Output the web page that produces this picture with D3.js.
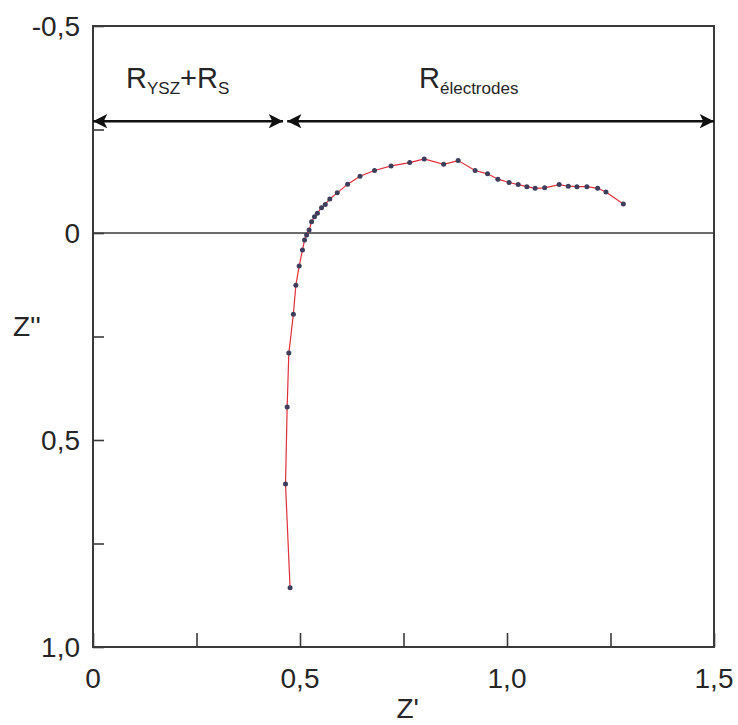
<!DOCTYPE html>
<html>
<head>
<meta charset="utf-8">
<script src="https://cdn.jsdelivr.net/npm/d3@7"></script>
<style>
  html, body { margin: 0; padding: 0; background: #ffffff; }
  svg { display: block; }
  text { font-family: "Liberation Sans", Arial, sans-serif; fill: #262626; }
</style>
</head>
<body>
<svg id="chart" width="738" height="725"></svg>
<script>
// Nyquist data: Z' (real) and Z'' (imaginary, axis inverted: negative up)
const zReal = [0.476, 0.465, 0.469, 0.473, 0.484, 0.490, 0.498, 0.506, 0.511, 0.516,
               0.522, 0.528, 0.535, 0.542, 0.552, 0.561, 0.572, 0.590, 0.615, 0.645,
               0.680, 0.720, 0.765, 0.800, 0.847, 0.882, 0.923, 0.953, 0.978, 1.005,
               1.027, 1.048, 1.068, 1.091, 1.126, 1.148, 1.169, 1.193, 1.219, 1.239, 1.281];
const zImag = [0.857, 0.606, 0.420, 0.290, 0.196, 0.126, 0.080, 0.041, 0.017, 0.005,
               -0.007, -0.027, -0.039, -0.048, -0.061, -0.069, -0.082, -0.097, -0.118, -0.137,
               -0.151, -0.162, -0.170, -0.179, -0.166, -0.175, -0.151, -0.143, -0.130, -0.122,
               -0.117, -0.112, -0.108, -0.109, -0.117, -0.113, -0.112, -0.112, -0.108, -0.099, -0.070];

const xTicksMajor = [0, 0.5, 1.0, 1.5];
const xTickLabels = ["0", "0,5", "1,0", "1,5"];
const xTicksMinor = [0.25, 0.75, 1.25];
const yTicksMajor = [-0.5, 0, 0.5, 1.0];
const yTickLabels = ["-0,5", "0", "0,5", "1,0"];
const yTicksMinor = [-0.25, 0.25, 0.75];

// annotation spans (in Z' units) and their level (Z'')
const spanStarts = [0, 0.469];
const spanEnds = [0.459, 1.5];
const spanLevel = -0.27;
const spanMain = ["R", "R"];
const spanSubs = ["YSZ", "électrodes"];

const svg = d3.select("#chart");
const L = 93, T = 26, W = 621, H = 621;

const x = d3.scaleLinear().domain([0, 1.5]).range([L, L + W]);
const y = d3.scaleLinear().domain([-0.5, 1.0]).range([T, T + H]);

const axisColor = "#3a3a3a";

// markers for arrows
const defs = svg.append("defs");
defs.append("marker")
  .attr("id", "arrow").attr("viewBox", "0 0 10 10")
  .attr("refX", 10).attr("refY", 5)
  .attr("markerWidth", 7).attr("markerHeight", 5.5)
  .attr("markerUnits", "strokeWidth")
  .attr("orient", "auto-start-reverse")
  .append("path").attr("d", "M0,0 L10,5 L0,10 L2.5,5 Z").attr("fill", "#111");

// zero line
svg.append("line")
  .attr("x1", x(0)).attr("x2", x(1.5))
  .attr("y1", y(0)).attr("y2", y(0))
  .attr("stroke", axisColor).attr("stroke-width", 1.6);

// axes (ticks inward)
const xAxis = d3.axisTop(x).tickValues([...xTicksMajor, ...xTicksMinor]).tickSize(14).tickFormat("");
const gx = svg.append("g").attr("transform", `translate(0,${y(1.0)})`).call(xAxis);
const yAxis = d3.axisRight(y).tickValues([...yTicksMajor, ...yTicksMinor]).tickSize(11).tickFormat("");
const gy = svg.append("g").attr("transform", `translate(${x(0)},0)`).call(yAxis);
[gx, gy].forEach(g => {
  g.select(".domain").remove();
  g.selectAll(".tick line").attr("stroke", axisColor).attr("stroke-width", 1.6);
});

// frame
svg.append("rect")
  .attr("x", x(0)).attr("y", y(-0.5))
  .attr("width", x(1.5) - x(0)).attr("height", y(1.0) - y(-0.5))
  .attr("fill", "none").attr("stroke", axisColor).attr("stroke-width", 2);

// tick labels
svg.append("g").selectAll("text").data(xTicksMajor).join("text")
  .attr("x", d => x(d)).attr("y", y(1.0) + 41)
  .attr("text-anchor", "middle").attr("font-size", 28)
  .text((d, i) => xTickLabels[i]);
svg.append("g").selectAll("text").data(yTicksMajor).join("text")
  .attr("x", x(0) - 13).attr("y", d => y(d) + 10)
  .attr("text-anchor", "end").attr("font-size", 28)
  .text((d, i) => yTickLabels[i]);

// axis titles
svg.append("text").attr("x", x(0.76)).attr("y", 718)
  .attr("text-anchor", "middle").attr("font-size", 28).text("Z'");
svg.append("text").attr("x", 13).attr("y", 336)
  .attr("text-anchor", "start").attr("font-size", 28).text("Z''");

// span arrows
spanStarts.forEach((s, i) => {
  svg.append("line")
    .attr("x1", x(s)).attr("x2", x(spanEnds[i]))
    .attr("y1", y(spanLevel)).attr("y2", y(spanLevel))
    .attr("stroke", "#111").attr("stroke-width", 2.6)
    .attr("marker-start", "url(#arrow)").attr("marker-end", "url(#arrow)");
});

// span labels
const lab1 = svg.append("text").attr("x", 126).attr("y", 88).attr("font-size", 29);
lab1.append("tspan").text(spanMain[0]);
lab1.append("tspan").attr("font-size", 17).attr("dy", 6).text(spanSubs[0]);
lab1.append("tspan").attr("dy", -6).text("+R");
lab1.append("tspan").attr("font-size", 17).attr("dy", 6).text("S");

const lab2 = svg.append("text").attr("x", 419).attr("y", 88).attr("font-size", 29);
lab2.append("tspan").text(spanMain[1]);
lab2.append("tspan").attr("font-size", 17).attr("dy", 6).text(spanSubs[1]);

// data line
const pts = zReal.map((d, i) => [d, zImag[i]]);
svg.append("path")
  .datum(pts)
  .attr("fill", "none").attr("stroke", "#e0303a").attr("stroke-width", 1.2)
  .attr("d", d3.line().x(d => x(d[0])).y(d => y(d[1])));

svg.append("g").selectAll("circle").data(pts).join("circle")
  .attr("cx", d => x(d[0])).attr("cy", d => y(d[1])).attr("r", 2.5)
  .attr("fill", "#3d3d5c");
</script>
</body>
</html>
